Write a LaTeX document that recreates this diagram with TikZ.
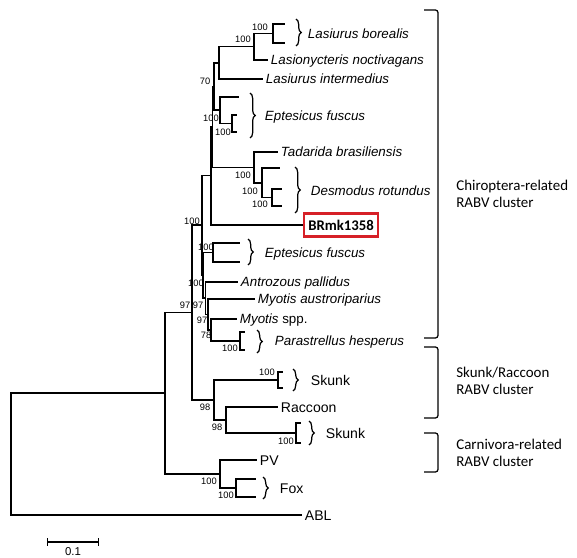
\documentclass[tikz,border=0pt]{standalone}
\usepackage{fontspec}
\setmainfont{Liberation Sans}
\newfontfamily\calfont{Carlito}
\usetikzlibrary{positioning}
\usetikzlibrary{arrows.meta}
\usetikzlibrary{decorations.pathreplacing}
\definecolor{boxred}{RGB}{214,32,39}

\tikzset{
    branch/.style={line width=0.8pt},
    boot/.style={font=\fontsize{5.3}{6}\selectfont, inner sep=0pt},
    taxon/.style={font=\fontsize{7.6}{9}\selectfont\itshape, anchor=west, inner sep=1.5pt, text height=5.4pt, text depth=0pt},
    host/.style={font=\fontsize{8}{9.6}\selectfont, anchor=west, inner sep=1.5pt, text height=5.8pt, text depth=0pt},
    clade/.style={font=\calfont\fontsize{8.5}{10}\selectfont, align=left, anchor=west, inner sep=0pt},
    leafbrace/.style={line width=0.7pt, decorate, decoration={brace, amplitude=3pt}},
    clusterbar/.style={line width=0.7pt, rounded corners=1.5pt},
    brbox/.style={draw=boxred, line width=1.3pt, anchor=west, font=\calfont\bfseries\fontsize{8.4}{10}\selectfont, minimum width=42pt, minimum height=13pt, inner sep=1pt},
    scalelbl/.style={font=\fontsize{6.5}{7}\selectfont, inner sep=0.5pt},
}

\begin{document}
\begin{tikzpicture}[x=0.02cm, y=-0.02cm]
    \useasboundingbox (0,0) rectangle (577,557);

    % inner nodes
    \coordinate (root) at (11,454);
    \coordinate (ing) at (165,393);
    \coordinate (rab) at (192,312.5);
    \coordinate (chi) at (202,225);
    \coordinate (cA) at (211,175.5);
    \coordinate (cB) at (212.5,127);
    \coordinate (cH) at (214,86.5);
    \coordinate (las) at (219,63);
    \coordinate (las2) at (254,46.5);
    \coordinate (lbo) at (273,33.5);
    \coordinate (ept) at (220,110);
    \coordinate (ept2) at (232,123.5);
    \coordinate (tad) at (254,167.5);
    \coordinate (des) at (262,183);
    \coordinate (des2) at (272,197.5);
    \coordinate (cG) at (203,275);
    \coordinate (eptb) at (213,252.5);
    \coordinate (cD) at (205.5,298);
    \coordinate (cE) at (208,314.5);
    \coordinate (cF) at (211,330);
    \coordinate (par) at (240,341);
    \coordinate (sr) at (214,400);
    \coordinate (sk1) at (278,380);
    \coordinate (rac) at (226,420);
    \coordinate (sk2) at (296,433);
    \coordinate (car) at (220,474);
    \coordinate (fox) at (236,488);

    % ends of the bracketed tips
    \coordinate (lbo-a) at (285,24);   \coordinate (lbo-b) at (285,43);
    \coordinate (ept-a) at (239,97);
    \coordinate (ept2-a) at (237,115); \coordinate (ept2-b) at (237,132);
    \coordinate (des-a) at (280,168);
    \coordinate (des2-a) at (282,189); \coordinate (des2-b) at (282,206);
    \coordinate (eptb-a) at (240,243); \coordinate (eptb-b) at (240,262);
    \coordinate (par-a) at (245,332);  \coordinate (par-b) at (245,350);
    \coordinate (sk1-a) at (283,372);  \coordinate (sk1-b) at (283,388);
    \coordinate (sk2-a) at (301,423);  \coordinate (sk2-b) at (301,443);
    \coordinate (fox-a) at (256,479);  \coordinate (fox-b) at (256,497);

    % single tips
    \node[taxon] (lno) at (268,60) {Lasionycteris noctivagans};
    \node[taxon] (lin) at (263,79) {Lasiurus intermedius};
    \node[taxon] (tbr) at (278,152) {Tadarida brasiliensis};
    \node[brbox] (brmk) at (303,225) {BRmk1358};
    \node[taxon] (apa) at (238,282) {Antrozous pallidus};
    \node[taxon] (mau) at (255,299) {Myotis austroriparius};
    \node[taxon] (msp) at (237,319) {Myotis \upshape spp.};
    \node[host] (rcn) at (278,407) {Raccoon};
    \node[host] (pv) at (257,460) {PV};
    \node[host] (abl) at (302,515) {ABL};

    % branches
    \foreach \p/\c in {root/ing, root/abl.west, ing/rab, ing/car, rab/chi, rab/sr,
            chi/cA, chi/cG, cA/cB, cA/brmk.west, cB/cH, cB/tad, cH/las, cH/ept,
            las/las2, las/lin.west, las2/lbo, las2/lno.west, lbo/lbo-a, lbo/lbo-b,
            ept/ept-a, ept/ept2, ept2/ept2-a, ept2/ept2-b,
            tad/tbr.west, tad/des, des/des-a, des/des2, des2/des2-a, des2/des2-b,
            cG/eptb, cG/cD, eptb/eptb-a, eptb/eptb-b,
            cD/apa.west, cD/cE, cE/mau.west, cE/cF, cF/msp.west, cF/par,
            par/par-a, par/par-b,
            sr/sk1, sr/rac, sk1/sk1-a, sk1/sk1-b, rac/rcn.west, rac/sk2,
            sk2/sk2-a, sk2/sk2-b, car/pv.west, car/fox, fox/fox-a, fox/fox-b}
        \draw[branch] (\p) |- (\c);

    % braces and their labels
    \foreach \x/\ya/\yb in {296/19/46, 250/93/138, 295/167/213, 248/239/265,
            257/330/353, 293/369/391, 309/421/445, 263/477/499}
        \draw[leafbrace] (\x,\ya) -- (\x,\yb);
    \node[taxon] (lborl) at (305,34) {Lasiurus borealis};
    \node[taxon] (ept1l) at (262,116) {Eptesicus fuscus};
    \node[taxon] (desl) at (308,191) {Desmodus rotundus};
    \node[taxon] (ept2l) at (262,253) {Eptesicus fuscus};
    \node[taxon] (parl) at (272,341) {Parastrellus hesperus};
    \node[host] (sk1l) at (308,380) {Skunk};
    \node[host] (sk2l) at (323,433) {Skunk};
    \node[host] (foxl) at (277,488) {Fox};

    % bootstrap values
    \foreach \x/\y/\v [count=\i] in {260/27/100, 243/39/100, 205/81/70, 211/118/100,
            223/132/100, 243/175/100, 250/191/100, 260/204/100, 192/221/100,
            206/247/100, 196/283/100, 185/305/97, 198/305/97, 202/320/97,
            206/335/78, 230/348/100, 267/372/100, 205/407/98, 217/427/98,
            286/441/100, 209/481/100, 226/495/100}
        \node[boot] (bs\i) at (\x,\y) {\v};

    % cluster brackets
    \draw[clusterbar] (424,10) -- (438,10) -- (438,338) -- (424,338);
    \draw[clusterbar] (424,347) -- (438,347) -- (438,418) -- (424,418);
    \draw[clusterbar] (424,433) -- (438,433) -- (438,472) -- (424,472);
    \node[clade] (chil) at (456,194) {Chiroptera-related\\RABV cluster};
    \node[clade] (srl) at (456,381) {Skunk/Raccoon\\RABV cluster};
    \node[clade] (carl) at (456,453) {Carnivora-related\\RABV cluster};

    % scale
    \coordinate (sb1) at (47,542);
    \coordinate (sb2) at (99,542);
    \coordinate (sbm) at (73,542);
    \draw[branch, {Bar[width=4pt]}-{Bar[width=4pt]}] (sb1) -- (sb2);
    \node[scalelbl, below=2.5pt of sbm] (sblab) {0.1};
\end{tikzpicture}
\end{document}
